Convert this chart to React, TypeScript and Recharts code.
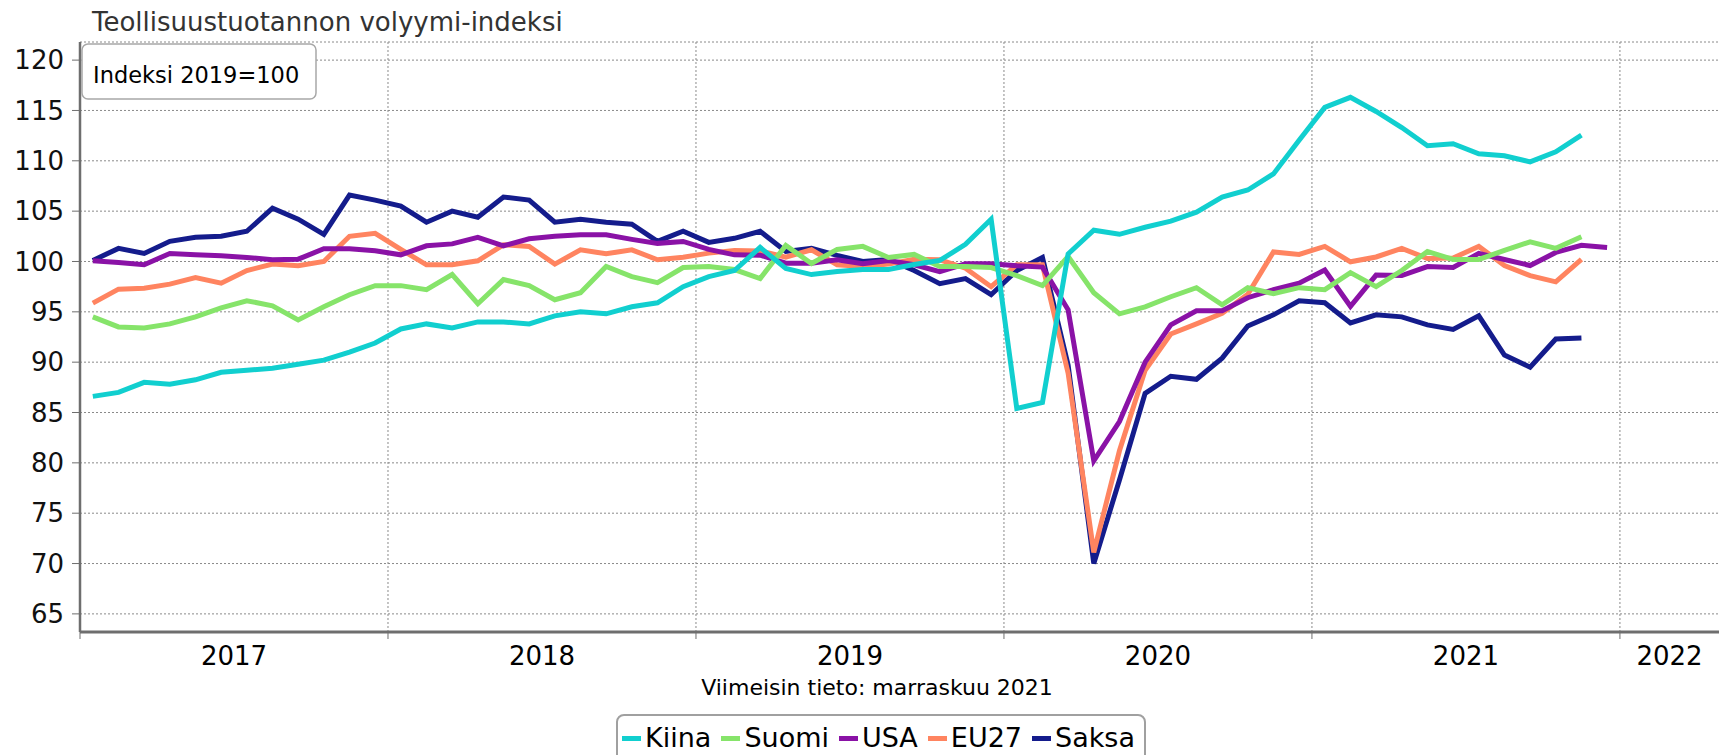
import { CartesianGrid, Line, LineChart, XAxis, YAxis } from "recharts";

// monthly index 2019=100, Jan 2017 ->
const kiina = [
  86.6, 87.0, 88.0, 87.8, 88.25, 89.0, 89.2, 89.4, 89.8, 90.2, 91.0, 91.9,
  93.3, 93.8, 93.4, 94.0, 94.0, 93.8, 94.6, 95.0, 94.8, 95.5, 95.9, 97.5,
  98.5, 99.1, 101.4, 99.3, 98.7, 99.0, 99.2, 99.2, 99.7, 100.1, 101.7, 104.2,
  85.4, 86.0, 100.75, 103.1, 102.7, 103.4, 104.0, 104.9, 106.4, 107.1, 108.7, 112.05,
  115.3, 116.3, 114.9, 113.3, 111.5, 111.7, 110.7, 110.5, 109.9, 110.9, 112.55,
];
const suomi = [
  94.5, 93.5, 93.4, 93.8, 94.5, 95.4, 96.1, 95.6, 94.2, 95.5, 96.7, 97.6,
  97.6, 97.2, 98.7, 95.8, 98.2, 97.6, 96.2, 96.9, 99.5, 98.5, 97.9, 99.4,
  99.5, 99.2, 98.3, 101.6, 99.8, 101.2, 101.5, 100.4, 100.7, 99.5, 99.5, 99.4,
  98.6, 97.6, 100.5, 96.9, 94.8, 95.5, 96.5, 97.4, 95.7, 97.4, 96.8, 97.4,
  97.2, 98.9, 97.5, 99.1, 101.0, 100.2, 100.2, 101.1, 101.95, 101.3, 102.45,
];
const usa = [
  100.07, 99.9, 99.67, 100.8, 100.66, 100.56, 100.4, 100.17, 100.23, 101.26, 101.26, 101.06,
  100.66, 101.56, 101.75, 102.4, 101.56, 102.25, 102.5, 102.65, 102.65, 102.2, 101.8, 101.99,
  101.2, 100.66, 100.63, 99.83, 99.83, 100.17, 99.77, 100.1, 99.67, 99.0, 99.77, 99.77,
  99.57, 99.44, 95.2, 80.2, 84.1, 90.0, 93.7, 95.1, 95.1, 96.4, 97.2, 97.85,
  99.15, 95.55, 98.65, 98.6, 99.5, 99.4, 100.8, 100.2, 99.6, 100.9, 101.6, 101.4,
];
const eu27 = [
  95.86, 97.25, 97.35, 97.75, 98.4, 97.85, 99.1, 99.74, 99.57, 100.0, 102.5, 102.8,
  101.2, 99.67, 99.67, 100.07, 101.66, 101.5, 99.74, 101.16, 100.76, 101.16, 100.17, 100.43,
  100.83, 101.1, 101.05, 100.43, 101.16, 99.67, 99.5, 99.74, 100.23, 100.17, 99.34, 97.5,
  99.67, 99.67, 88.9, 71.1, 81.2, 89.2, 92.8, 93.8, 94.85, 96.75, 100.95, 100.7,
  101.5, 99.97, 100.45, 101.3, 100.3, 100.35, 101.5, 99.6, 98.6, 97.98, 100.2,
];
const saksa = [
  100.1, 101.3, 100.8, 102.0, 102.4, 102.5, 103.0, 105.3, 104.2, 102.7, 106.6, 106.1,
  105.5, 103.9, 105.0, 104.4, 106.4, 106.1, 103.9, 104.2, 103.9, 103.7, 102.0, 103.0,
  101.9, 102.3, 103.0, 101.0, 101.3, 100.6, 100.0, 100.2, 99.1, 97.8, 98.3, 96.7,
  99.1, 100.4, 89.7, 70.0, 78.3, 86.9, 88.6, 88.3, 90.4, 93.6, 94.7, 96.1,
  95.9, 93.9, 94.7, 94.5, 93.7, 93.25, 94.6, 90.7, 89.5, 92.3, 92.4,
];

const yearLabels = ["2017", "2018", "2019", "2020", "2021", "2022"];
const yTicks = [65, 70, 75, 80, 85, 90, 95, 100, 105, 110, 115, 120];

const series = [
  { key: "kiina", label: "Kiina", color: "#11cfcf", values: kiina },
  { key: "suomi", label: "Suomi", color: "#86e46a", values: suomi },
  { key: "usa", label: "USA", color: "#8a12a6", values: usa },
  { key: "eu27", label: "EU27", color: "#ff8460", values: eu27 },
  { key: "saksa", label: "Saksa", color: "#141c8c", values: saksa },
];

const X_MAX = 63.86; // months shown from Jan 2017
const Y_DOMAIN: [number, number] = [63.2, 121.8];
const FONT = "'DejaVu Sans', Verdana, sans-serif";

const n = Math.max(...series.map((s) => s.values.length));
const rows = Array.from({ length: n }, (_, i) => {
  const r: Record<string, number | undefined> = { x: i + 0.5 };
  series.forEach((s) => (r[s.key] = s.values[i]));
  return r;
});

const yearStarts = yearLabels.map((_, i) => i * 12);
const labelTicks = yearStarts.map((s) => Math.min(s + 6, (s + X_MAX) / 2));
const axisColor = "#6e6e6e";

// year boundaries -> pixel x inside the plot area
const yearGrid = (p: any): number[] => {
  const o = p?.offset;
  if (!o) return [];
  return yearStarts.map((v) => o.left + (o.width * v) / X_MAX);
};

export default function App() {
  return (
    <div
      style={{
        position: "absolute",
        left: 0,
        top: 0,
        width: 1719,
        height: 755,
        overflow: "hidden",
        background: "#fff",
        fontFamily: FONT,
      }}
    >
      <LineChart width={1719} height={755} data={rows} margin={{ top: 42, right: 0, bottom: 75, left: 0 }}>
        <CartesianGrid
          xAxisId="a"
          stroke="#8a8a8a"
          strokeDasharray="2 2"
          verticalCoordinatesGenerator={yearGrid}
        />
        <XAxis
          xAxisId="b"
          type="number"
          dataKey="x"
          domain={[0, X_MAX]}
          ticks={labelTicks}
          interval={0}
          allowDataOverflow
          axisLine={false}
          tickLine={false}
          tickSize={0}
          tickMargin={7}
          height={40}
          tick={{ fontSize: 26, fill: "#000", fontFamily: FONT }}
          tickFormatter={(v: number) => yearLabels[Math.floor(v / 12)]}
        />
        <XAxis
          xAxisId="a"
          type="number"
          dataKey="x"
          domain={[0, X_MAX]}
          ticks={yearStarts}
          interval={0}
          tick={() => <g />}
          tickSize={7}
          height={8}
          allowDataOverflow
          axisLine={{ stroke: axisColor, strokeWidth: 3 }}
          tickLine={{ stroke: axisColor, strokeWidth: 1 }}
        />
        <YAxis
          domain={Y_DOMAIN}
          ticks={yTicks}
          interval={0}
          width={80}
          allowDataOverflow
          tickSize={8}
          tickMargin={8}
          axisLine={{ stroke: axisColor, strokeWidth: 2.5 }}
          tickLine={{ stroke: axisColor, strokeWidth: 1 }}
          tick={{ fontSize: 26, fill: "#111", fontFamily: FONT }}
        />
        {[...series].reverse().map((s) => (
          <Line
            key={s.key}
            xAxisId="a"
            type="linear"
            dataKey={s.key}
            name={s.label}
            stroke={s.color}
            strokeWidth={5}
            dot={false}
            isAnimationActive={false}
          />
        ))}
      </LineChart>

      <svg
        width={1719}
        height={755}
        style={{ position: "absolute", left: 0, top: 0, pointerEvents: "none" }}
        fontFamily={FONT}
      >
        <text x={92} y={31} fontSize={26} fill="#333">
          Teollisuustuotannon volyymi-indeksi
        </text>
        <rect x={82} y={44} width={234} height={55} rx={6} fill="#fff" stroke="#a8a8a8" strokeWidth={1.5} />
        <text x={93} y={82.5} fontSize={22.5} fill="#000">
          Indeksi 2019=100
        </text>
        <text x={877} y={695} fontSize={22} fill="#000" textAnchor="middle">
          Viimeisin tieto: marraskuu 2021
        </text>
      </svg>

      <div
        style={{
          position: "absolute",
          left: 616,
          top: 714,
          width: 530,
          height: 70,
          boxSizing: "border-box",
          border: "2px solid #a0a0a0",
          borderRadius: 8,
          background: "#fff",
          display: "flex",
          alignItems: "flex-start",
          paddingLeft: 4,
          paddingTop: 7,
          fontSize: 27,
          lineHeight: "30px",
          color: "#000",
        }}
      >
        {series.map((s) => (
          <div key={s.key} style={{ display: "flex", alignItems: "center", marginRight: 10 }}>
            <span style={{ display: "inline-block", width: 19, height: 5, background: s.color, marginRight: 4 }} />
            <span>{s.label}</span>
          </div>
        ))}
      </div>
    </div>
  );
}
